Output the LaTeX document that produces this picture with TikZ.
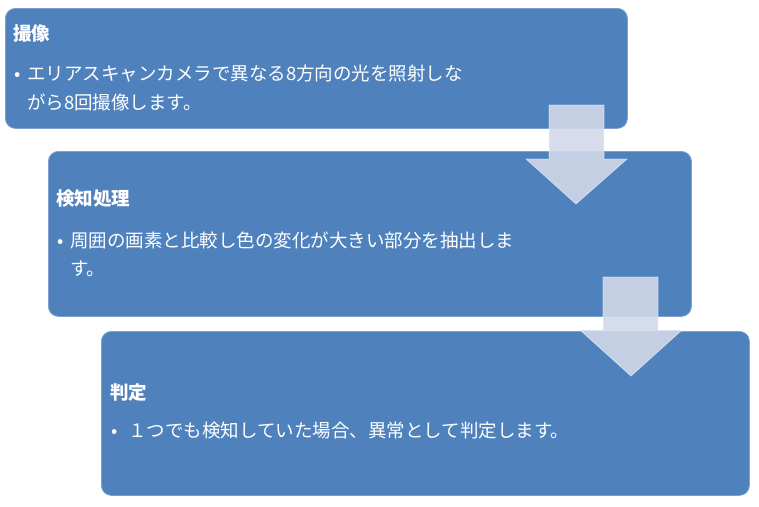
\documentclass[tikz,border=0pt]{standalone}
\usepackage{fontspec}
\setmainfont{Noto Sans CJK JP}
\definecolor{boxblue}{RGB}{79,129,189}
\definecolor{boxedge}{RGB}{125,160,208}
\definecolor{arrowfill}{RGB}{209,216,233}
\begin{document}
\begin{tikzpicture}[x=1pt,y=-1pt,
  box/.style={draw=boxedge, line width=0.8pt, fill=boxblue, rounded corners=10pt, anchor=north west, inner sep=0pt},
  ttl/.style={anchor=base west, inner sep=0pt, text=white, font=\fontsize{18.5}{20}\selectfont\bfseries},
  txt/.style={anchor=base west, inner sep=0pt, text=white, font=\fontsize{18.5}{20}\selectfont},
  blockarrow/.style={fill=arrowfill, fill opacity=0.9, draw=white, draw opacity=0.5, line width=0.8pt}]
\useasboundingbox (0,0) rectangle (759,506);
% boxes
\node[box, minimum width=622pt, minimum height=120pt] (b1) at (5,8) {};
\node[box, minimum width=643pt, minimum height=165pt] (b2) at (48,151) {};
\node[box, minimum width=648pt, minimum height=164pt] (b3) at (101,331) {};
% texts box 1
\node[ttl] (t1) at (13,40) {撮像};
\node[txt] (t1b) at (14,80) {•};
\node[txt] (t1a) at (27,80) {エリアスキャンカメラで異なる8方向の光を照射しな};
\node[txt] (t1c) at (27,109) {がら8回撮像します。};
% texts box 2
\node[ttl] (t2) at (56,205) {検知処理};
\node[txt] (t2b) at (57,247) {•};
\node[txt] (t2a) at (70,247) {周囲の画素と比較し色の変化が大きい部分を抽出しま};
\node[txt] (t2c) at (70,275) {す。};
% texts box 3
\node[ttl] (t3) at (110,399.5) {判定};
\node[txt] (t3b) at (111,437.5) {•};
\node[txt] (t3a) at (128,437.5) {１つでも検知していた場合、異常として判定します。};
% block arrows
\draw[blockarrow] (549,105) -- (604,105) -- (604,159) -- (627,159) -- (576,204) -- (526,159) -- (549,159) -- cycle;
\draw[blockarrow] (603,277) -- (658,277) -- (658,330) -- (682,330) -- (631,376) -- (580,330) -- (603,330) -- cycle;
\end{tikzpicture}
\end{document}
